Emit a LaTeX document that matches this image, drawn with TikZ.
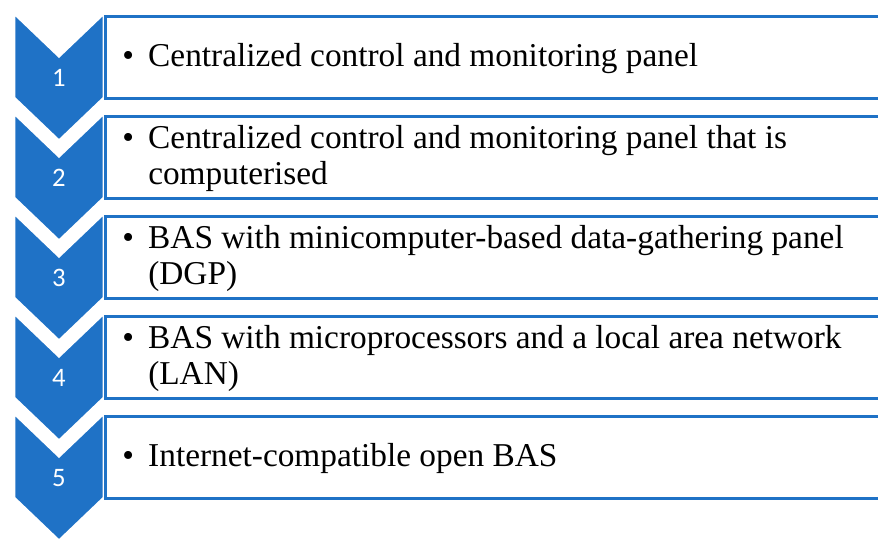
\documentclass[tikz,border=0pt]{standalone}
\usepackage{fontspec}
\setmainfont{Liberation Serif}
\newfontfamily\numfont{Carlito}
\usepackage{tikz}
\definecolor{basblue}{HTML}{1F72C6}
\usetikzlibrary{positioning}
\newcommand{\bitem}[1]{\makebox[19.5pt][l]{\textbullet}\begin{tabular}[t]{@{}l@{}}#1\end{tabular}}

\begin{document}
\begin{tikzpicture}[
    x=0.75pt, y=-0.75pt,
    chev/.style={fill=basblue, draw=white, line width=2.2pt, line join=miter},
    num/.style={text=white, font=\numfont\fontsize{20}{24}\selectfont, inner sep=0},
    stage/.style={rectangle, draw=basblue, line width=1.9pt, fill=white, anchor=north west,
                  minimum width=582pt, minimum height=61.5pt, inner sep=0},
    itembase/.style={anchor=base west, align=left, inner sep=0, xshift=13.5pt,
                 font=\fontsize{25}{27}\selectfont},
    item/.style={itembase, yshift=-6.75pt},
    item2/.style={itembase, yshift=6.75pt}
]
\useasboundingbox (0,0) rectangle (878,539);

% chevrons with stage numbers
\foreach \k in {1,...,5} {
  \pgfmathsetmacro{\T}{13+100*(\k-1)}
  \draw[chev] (14,\T) -- (59,\T+43) -- (104,\T) -- (104,\T+85) -- (59,\T+128) -- (14,\T+85) -- cycle;
  \node[num] (n\k) at (59,\T+65) {\k};
}

\node[stage] (s1) at (104,15) {};
\node[stage] (s2) at (104,115) {};
\node[stage] (s3) at (104,215) {};
\node[stage] (s4) at (104,315) {};
\node[stage] (s5) at (104,415) {};

\node[item] (t1) at (s1.west) {\bitem{Centralized control and monitoring panel}};
\node[item2] (t2) at (s2.west) {\bitem{Centralized control and monitoring panel that is\\computerised}};
\node[item2] (t3) at (s3.west) {\bitem{BAS with minicomputer-based data-gathering panel\\(DGP)}};
\node[item2] (t4) at (s4.west) {\bitem{BAS with microprocessors and a local area network\\(LAN)}};
\node[item] (t5) at (s5.west) {\bitem{Internet-compatible open BAS}};

\end{tikzpicture}
\end{document}
